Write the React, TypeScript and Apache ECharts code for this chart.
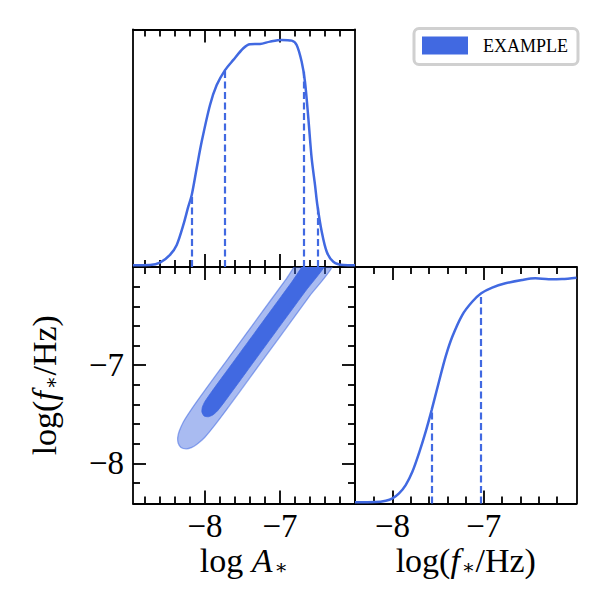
import React, { useEffect, useRef } from "react";
import * as echarts from "echarts";

const BLUE = "#4169e1";
const SERIF = "'Liberation Serif', 'Times New Roman', serif";
const MATH = "'DejaVu Serif', serif";

// axis ranges
const logARange = [-8.96, -6.0];
const logFRange = [-8.41, -6.0];
const logFDiagRange = [-8.41, -5.985];
const densityRange = [0, 1];

// ticks
const majorTicks = [-8, -7];
const minorTicksLogA = [-8.8, -8.6, -8.4, -8.2, -7.8, -7.6, -7.4, -7.2, -6.8, -6.6, -6.4, -6.2];
const minorTicksLogF = [-8.2, -7.8, -7.6, -7.4, -7.2, -6.8, -6.6, -6.4, -6.2];

// legend
const legendLabels = ["EXAMPLE"];

// 1D marginal of log A*
const logAGridX = [-8.96, -8.733, -8.6, -8.467, -8.377, -8.289, -8.223, -8.177, -8.111, -8.044, -7.933, -7.844, -7.733, -7.622, -7.489, -7.4, -7.267, -7.133, -6.978, -6.844, -6.778, -6.711, -6.667, -6.622, -6.578, -6.533, -6.502, -6.444, -6.377, -6.289, -6.156, -6.0];
const logADensity = [0.007, 0.008, 0.018, 0.051, 0.093, 0.177, 0.254, 0.303, 0.416, 0.528, 0.682, 0.766, 0.829, 0.872, 0.921, 0.938, 0.939, 0.949, 0.956, 0.953, 0.935, 0.864, 0.78, 0.626, 0.458, 0.345, 0.261, 0.149, 0.064, 0.022, 0.008, 0.007];
const logAQuantiles = [-8.177, -7.733, -6.689, -6.502];
const logAQuantileHeights = [0.303, 0.829, 0.822, 0.261];

// 1D marginal of log f*
const logFGridX = [-8.41, -8.182, -8.073, -8.0, -7.928, -7.855, -7.782, -7.71, -7.636, -7.571, -7.491, -7.418, -7.345, -7.236, -7.127, -7.028, -6.908, -6.763, -6.581, -6.436, -6.29, -6.144, -5.985];
const logFDensity = [0.005, 0.006, 0.012, 0.022, 0.043, 0.078, 0.134, 0.212, 0.304, 0.395, 0.515, 0.621, 0.705, 0.797, 0.853, 0.889, 0.913, 0.931, 0.945, 0.952, 0.948, 0.949, 0.955];
const logFQuantiles = [-7.571, -7.028];
const logFQuantileHeights = [0.395, 0.889];

// 2D credible contours (log A*, log f*)
const contourOuter = [
  [-8.32, -7.839], [-8.358, -7.793], [-8.364, -7.739], [-8.344, -7.674], [-8.289, -7.579],
  [-8.166, -7.433], [-8.012, -7.267], [-7.697, -6.938], [-7.304, -6.527], [-6.911, -6.115],
  [-6.596, -5.787], [-6.284, -5.961], [-6.599, -6.29], [-6.992, -6.701], [-7.385, -7.112],
  [-7.7, -7.441], [-7.861, -7.604], [-8.005, -7.738], [-8.107, -7.807], [-8.182, -7.841],
  [-8.251, -7.853],
];
const contourInner = [
  [-8.013, -7.518], [-8.041, -7.478], [-8.036, -7.43], [-8.003, -7.373], [-7.905, -7.264],
  [-7.63, -6.976], [-7.236, -6.564], [-6.843, -6.153], [-6.528, -5.824], [-6.352, -5.923],
  [-6.666, -6.252], [-7.06, -6.663], [-7.453, -7.074], [-7.728, -7.362], [-7.835, -7.467],
  [-7.896, -7.508], [-7.955, -7.526],
];

const nameLogA = "{r|log }{i|A}{s|\u2217}";
const nameLogF = "{r|log(}{i|f}{s|\u2217}{r|/Hz)}";

const FS = 33;
const NFS = 34;
const nameRich = {
  r: { fontFamily: SERIF, fontSize: NFS, color: "#000" },
  i: { fontFamily: SERIF, fontSize: NFS, fontStyle: "italic", color: "#000" },
  s: { fontFamily: MATH, fontSize: 20, color: "#000", padding: [14, 0, 0, 2] },
};

const fmt = (v: number) => (v < 0 ? "\u2212" : "") + String(Math.abs(Math.round(v)));

const lineCol = { color: "#000", width: 1.8 };

function mkX(grid: number, range: number[], position: string, ticks: number[], len: number, showLine: boolean, extra: any = {}) {
  return {
    type: "value",
    gridIndex: grid,
    position,
    min: range[0],
    max: range[1],
    axisLine: { show: showLine, onZero: false, lineStyle: lineCol },
    axisTick: { show: true, inside: true, length: len, customValues: ticks, lineStyle: lineCol },
    axisLabel: { show: false },
    splitLine: { show: false },
    axisPointer: { show: false },
    ...extra,
  };
}

function mkY(grid: number, range: number[], position: string, ticks: number[] | null, len: number, showLine: boolean, extra: any = {}) {
  return {
    type: "value",
    gridIndex: grid,
    position,
    min: range[0],
    max: range[1],
    axisLine: { show: showLine, onZero: false, lineStyle: lineCol },
    axisTick: ticks
      ? { show: true, inside: true, length: len, customValues: ticks, lineStyle: lineCol }
      : { show: false },
    axisLabel: { show: false },
    splitLine: { show: false },
    axisPointer: { show: false },
    ...extra,
  };
}

const tickLabel = (margin: number) => ({
  show: true,
  customValues: majorTicks,
  formatter: fmt,
  margin,
  fontFamily: SERIF,
  fontSize: FS,
  color: "#000",
});

const MINOR = 7;
const MAJOR = 13;

const zip = (xs: number[], ys: number[]) => xs.map((x, i) => [x, ys[i]]);

const dashedMarks = (qs: number[], hs: number[]) => ({
  silent: true,
  symbol: ["none", "none"],
  label: { show: false },
  emphasis: { disabled: true },
  lineStyle: { color: BLUE, width: 2.2, type: [7, 3.5] },
  data: qs.map((q, i) => [{ coord: [q, 0] }, { coord: [q, hs[i]] }]),
});

const contourSeries = (name: string, pts: number[][], style: any) => ({
  type: "custom",
  name,
  xAxisIndex: 4,
  yAxisIndex: 2,
  clip: true,
  silent: true,
  itemStyle: { color: BLUE },
  data: [[-7, -7]],
  renderItem: (_params: any, api: any) => ({
    type: "polygon",
    shape: { points: pts.map((p) => api.coord(p)), smooth: 0.2 },
    style,
  }),
});

const option: any = {
  animation: false,
  textStyle: { fontFamily: SERIF },
  grid: [
    { left: 133, top: 29.5, width: 222, height: 237.5, outerBoundsMode: "none" },
    { left: 133, top: 267, width: 222, height: 236.5, outerBoundsMode: "none" },
    { left: 355, top: 267, width: 221.5, height: 236.5, outerBoundsMode: "none" },
  ],
  legend: {
    data: [{ name: legendLabels[0], icon: "rect" }],
    selectedMode: false,
    left: 414,
    top: 28.5,
    padding: [8, 10, 10, 8],
    itemWidth: 46,
    itemHeight: 18,
    borderColor: "#d0d0d0",
    borderWidth: 3,
    borderRadius: 5,
    backgroundColor: "#fff",
    textStyle: { fontFamily: SERIF, fontSize: 18, color: "#000", padding: [0, 0, 0, 10] },
  },
  xAxis: [
    mkX(0, logARange, "bottom", minorTicksLogA, MINOR, true),
    mkX(0, logARange, "bottom", majorTicks, MAJOR, false),
    mkX(0, logARange, "top", minorTicksLogA, MINOR, true),
    mkX(0, logARange, "top", majorTicks, MAJOR, false),
    mkX(1, logARange, "bottom", minorTicksLogA, MINOR, true),
    mkX(1, logARange, "bottom", majorTicks, MAJOR, false, {
      axisLabel: tickLabel(6),
      name: nameLogA,
      nameLocation: "middle",
      nameGap: 38,
      nameTextStyle: { fontFamily: SERIF, fontSize: NFS, color: "#000", rich: nameRich },
    }),
    mkX(1, logARange, "top", minorTicksLogA, MINOR, true),
    mkX(1, logARange, "top", majorTicks, MAJOR, false),
    mkX(2, logFDiagRange, "bottom", minorTicksLogF, MINOR, true),
    mkX(2, logFDiagRange, "bottom", majorTicks, MAJOR, false, {
      axisLabel: tickLabel(6),
      name: nameLogF,
      nameLocation: "middle",
      nameGap: 38,
      nameTextStyle: { fontFamily: SERIF, fontSize: NFS, color: "#000", rich: nameRich },
    }),
    mkX(2, logFDiagRange, "top", minorTicksLogF, MINOR, true),
    mkX(2, logFDiagRange, "top", majorTicks, MAJOR, false),
  ],
  yAxis: [
    mkY(0, densityRange, "left", null, 0, true),
    mkY(0, densityRange, "right", null, 0, true),
    mkY(1, logFRange, "left", minorTicksLogF, MINOR, true),
    mkY(1, logFRange, "left", majorTicks, MAJOR, false, {
      axisLabel: tickLabel(9),
      name: nameLogF,
      nameLocation: "middle",
      nameRotate: 90,
      nameGap: 72,
      nameTextStyle: { fontFamily: SERIF, fontSize: NFS, color: "#000", rich: nameRich },
    }),
    mkY(1, logFRange, "right", minorTicksLogF, MINOR, true),
    mkY(1, logFRange, "right", majorTicks, MAJOR, false),
    mkY(2, densityRange, "left", null, 0, true),
    mkY(2, densityRange, "right", null, 0, true),
  ],
  series: [
    {
      type: "line",
      name: "logA",
      xAxisIndex: 0,
      yAxisIndex: 0,
      data: zip(logAGridX, logADensity),
      showSymbol: false,
      smooth: 0.3,
      lineStyle: { color: BLUE, width: 2.5 },
      itemStyle: { color: BLUE },
      silent: true,
      markLine: dashedMarks(logAQuantiles, logAQuantileHeights),
    },
    contourSeries("light", contourOuter, {
      fill: "rgba(65,105,225,0.45)",
      stroke: "rgba(65,105,225,0.55)",
      lineWidth: 1.3,
    }),
    contourSeries(legendLabels[0], contourInner, { fill: BLUE, stroke: BLUE, lineWidth: 0.8 }),
    {
      type: "line",
      name: "logF",
      xAxisIndex: 8,
      yAxisIndex: 6,
      data: zip(logFGridX, logFDensity),
      showSymbol: false,
      smooth: 0.3,
      lineStyle: { color: BLUE, width: 2.5 },
      itemStyle: { color: BLUE },
      silent: true,
      markLine: dashedMarks(logFQuantiles, logFQuantileHeights),
    },
  ],
};

export default function App() {
  const ref = useRef<HTMLDivElement>(null);
  useEffect(() => {
    const chart = echarts.init(ref.current!, null, { renderer: "svg" });
    chart.setOption(option);
    return () => chart.dispose();
  }, []);
  return (
    <div
      ref={ref}
      style={{ position: "absolute", left: 0, top: 0, width: 606, height: 609, background: "#fff" }}
    />
  );
}
